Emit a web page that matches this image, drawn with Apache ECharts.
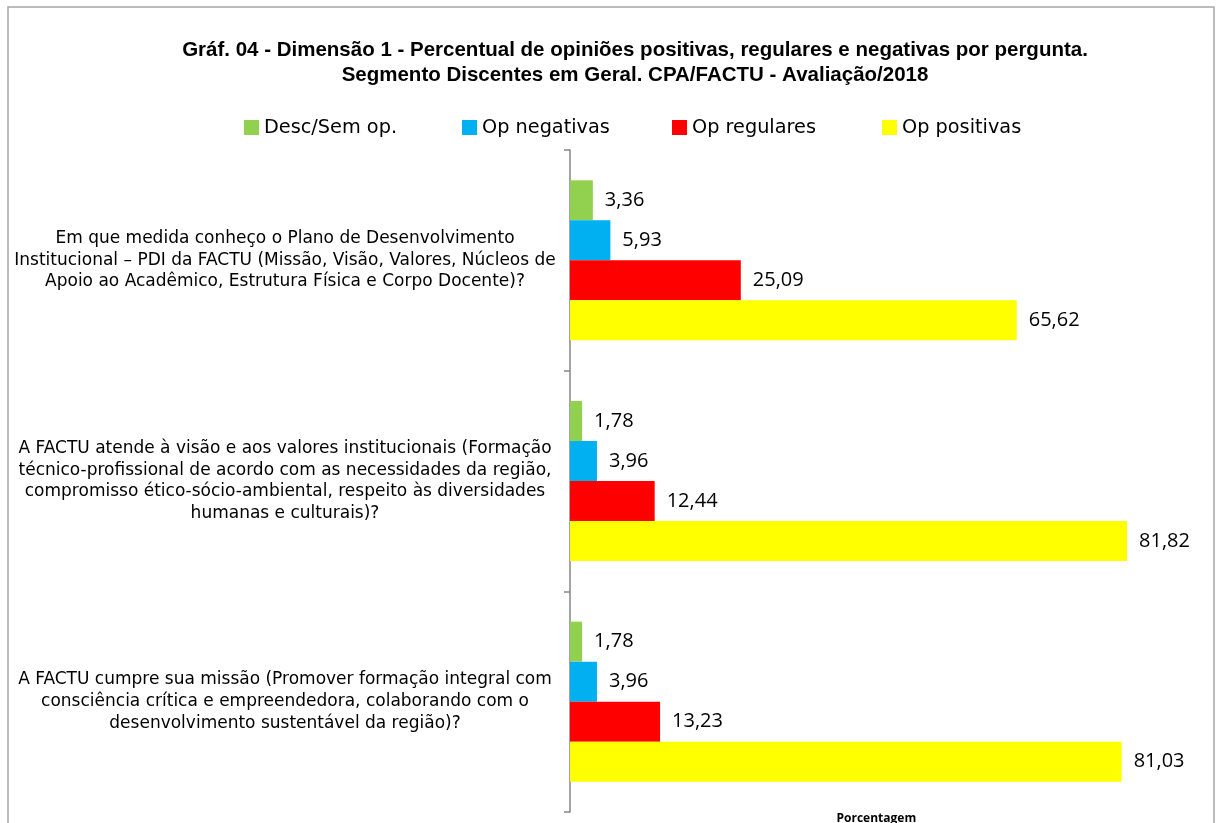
<!DOCTYPE html>
<html>
<head>
<meta charset="utf-8">
<script src="https://cdn.jsdelivr.net/npm/echarts@6/dist/echarts.min.js"></script>
<style>html,body{margin:0;padding:0;background:#fff;overflow:hidden}#c{width:1216px;height:823px}</style>
</head>
<body>
<div id="c"></div>
<script>
const categories = [
  "Em que medida conheço o Plano de Desenvolvimento\nInstitucional – PDI da FACTU (Missão, Visão, Valores, Núcleos de\nApoio ao Acadêmico, Estrutura Física e Corpo Docente)?",
  "A FACTU atende à visão e aos valores institucionais (Formação\ntécnico-profissional de acordo com as necessidades da região,\ncompromisso ético-sócio-ambiental, respeito às diversidades\nhumanas e culturais)?",
  "A FACTU cumpre sua missão (Promover formação integral com\nconsciência crítica e empreendedora, colaborando com o\ndesenvolvimento sustentável da região)?"
];
const seriesNames = ["Desc/Sem op.", "Op negativas", "Op regulares", "Op positivas"];
const descSemOp = [3.36, 1.78, 1.78];
const opNegativas = [5.93, 3.96, 3.96];
const opRegulares = [25.09, 12.44, 13.23];
const opPositivas = [65.62, 81.82, 81.03];
const colors = ["#92D050", "#00B0F0", "#FF0000", "#FFFF00"];
const values = [descSemOp, opNegativas, opRegulares, opPositivas];
const legendLefts = [244, 462, 672, 882];

const chart = echarts.init(document.getElementById('c'), null, {renderer: 'canvas'});
const fmt = v => v.toFixed(2).replace('.', ',');

chart.setOption({
  animation: false,
  backgroundColor: '#fff',
  color: colors,
  title: {
    text: 'Gráf. 04 - Dimensão 1 - Percentual de opiniões positivas, regulares e negativas por pergunta.\nSegmento Discentes em Geral. CPA/FACTU - Avaliação/2018',
    left: 635, top: 38, textAlign: 'center', padding: 0,
    textStyle: {fontFamily: 'Liberation Sans', fontWeight: 'bold', fontSize: 20.5, lineHeight: 25, color: '#000'}
  },
  legend: seriesNames.map((n, i) => ({
    data: [n], left: legendLefts[i], top: 118, padding: 0,
    itemWidth: 15, itemHeight: 15, itemGap: 0,
    icon: 'rect',
    textStyle: {fontFamily: 'DejaVu Sans', fontSize: 19.3, color: '#000'}
  })),
  grid: {left: 570, top: 150, width: 612.7, height: 662, containLabel: false, outerBoundsMode: 'none'},
  xAxis: {
    type: 'value', min: 0, max: 90,
    name: 'Porcentagem', nameLocation: 'middle', nameGap: 1,
    nameTextStyle: {fontFamily: 'Open Sans', fontWeight: 'bold', fontSize: 12, color: '#000', verticalAlign: 'top'},
    axisLine: {show: false}, axisTick: {show: false}, axisLabel: {show: false}, splitLine: {show: false}
  },
  yAxis: {
    type: 'category', inverse: true, data: categories,
    axisLine: {show: true, lineStyle: {color: '#868686', width: 1.5}},
    axisTick: {show: true, length: 6, lineStyle: {color: '#868686', width: 1.5}},
    axisLabel: {
      align: 'center', margin: 285, interval: 0,
      fontFamily: 'DejaVu Sans', fontSize: 17, lineHeight: 21.7, color: '#000'
    }
  },
  graphic: [{
    type: 'rect', shape: {x: 8, y: 7, width: 1206, height: 830},
    style: {fill: 'none', stroke: '#a6a6a6', lineWidth: 1.5}, silent: true, z: -1
  }],
  series: seriesNames.map((n, i) => ({
    name: n, type: 'bar', data: values[i],
    barWidth: 40, barGap: '0%', barCategoryGap: '27%',
    itemStyle: {color: colors[i]},
    label: {
      show: true, position: 'right', distance: 12,
      formatter: p => fmt(p.value),
      fontFamily: 'Open Sans', fontSize: 20, color: '#000'
    }
  }))
});
</script>
</body>
</html>
